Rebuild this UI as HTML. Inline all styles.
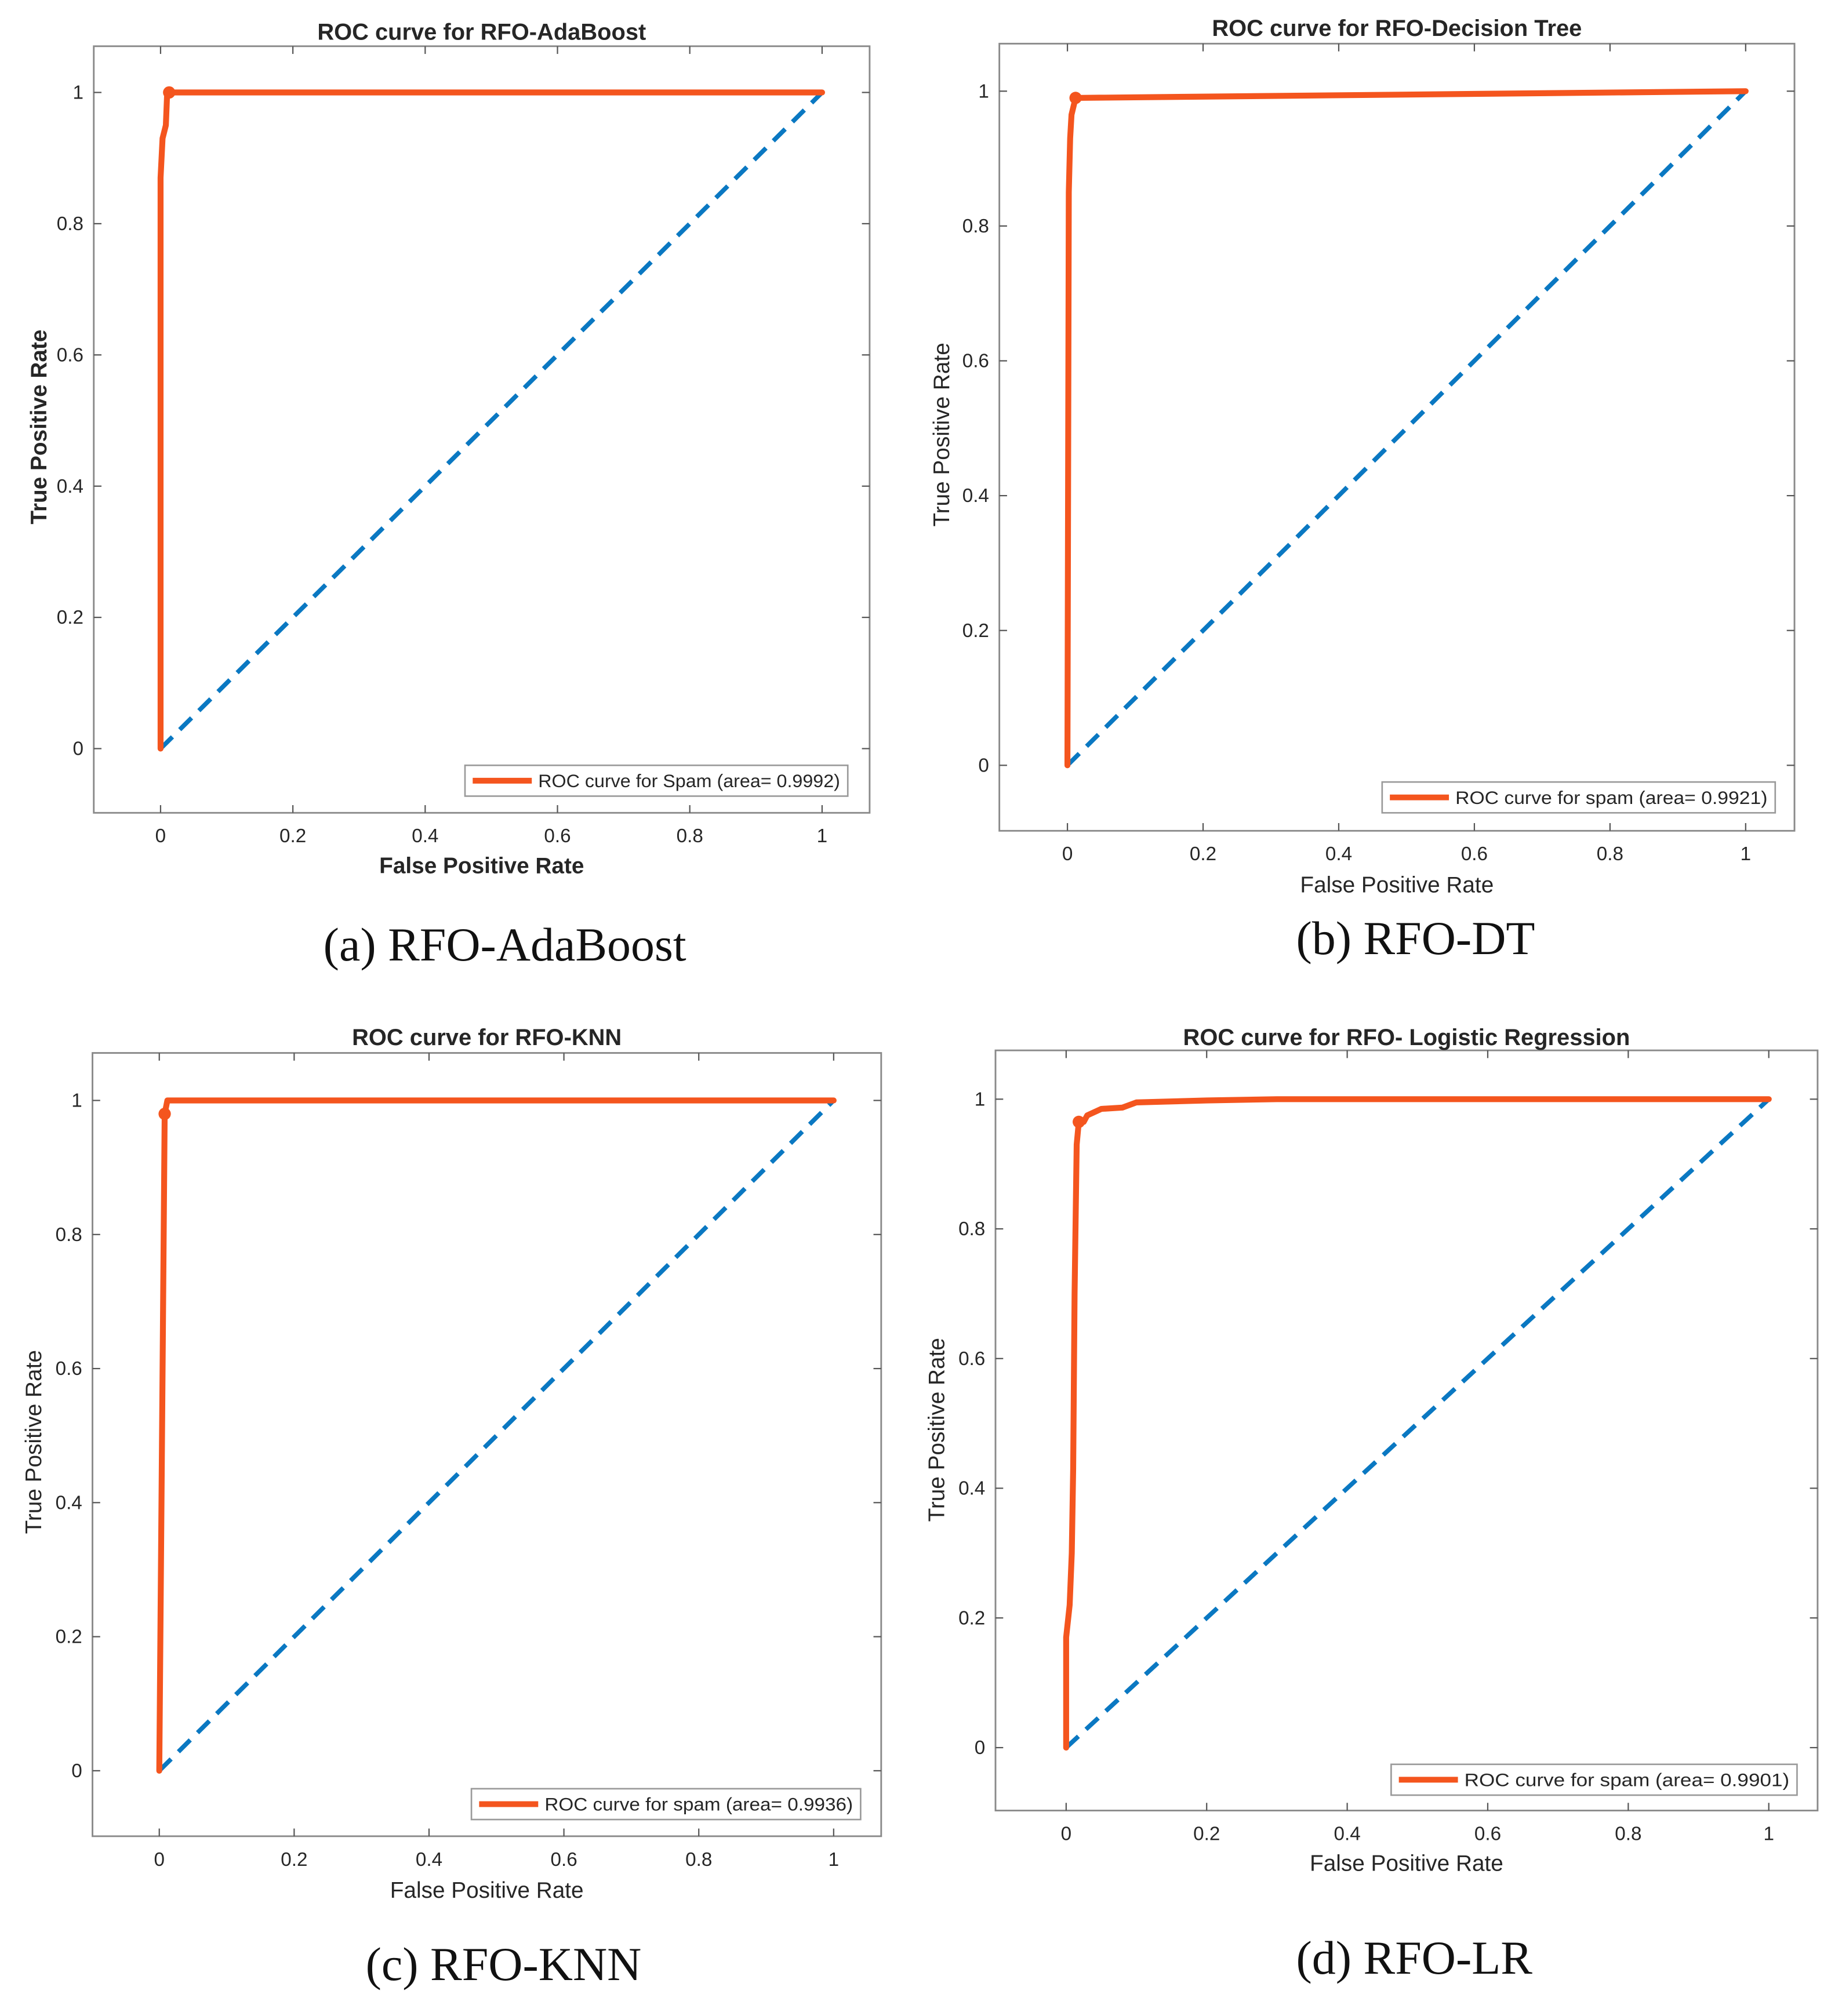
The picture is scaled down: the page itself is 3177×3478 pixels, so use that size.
<!DOCTYPE html>
<html><head><meta charset="utf-8"><style>
html,body{margin:0;padding:0;background:#fff;}
svg{display:block;}
</style></head><body>
<svg id="fig" width="3177" height="3478" viewBox="0 0 1434 1570" preserveAspectRatio="none" xmlns="http://www.w3.org/2000/svg"></svg>
<script>
// Panel data (FPR / TPR arrays)
const fprA = [0, 0, 0.003, 0.008, 0.01, 0.02, 1];
const tprA = [0, 0.87, 0.93, 0.95, 1.0, 1.0, 1.0];
const fprB = [0, 0.002, 0.004, 0.006, 0.012, 1];
const tprB = [0, 0.85, 0.93, 0.965, 0.99, 1.0];
const fprC = [0, 0.008, 0.012, 1];
const tprC = [0, 0.98, 1.0, 1.0];
const fprD = [0, 0, 0.005, 0.008, 0.01, 0.012, 0.015, 0.018, 0.025, 0.03, 0.05, 0.08, 0.1, 0.2, 0.3, 1];
const tprD = [0, 0.17, 0.22, 0.30, 0.43, 0.70, 0.93, 0.965, 0.965, 0.975, 0.985, 0.987, 0.995, 0.998, 1.0, 1.0];
const markerA = [0.013, 1.0];
const markerB = [0.012, 0.99];
const markerC = [0.008, 0.98];
const markerD = [0.018, 0.965];
const xTickLabels = ['0', '0.2', '0.4', '0.6', '0.8', '1'];
const yTickLabels = ['0', '0.2', '0.4', '0.6', '0.8', '1'];
const tickValues = [0, 0.2, 0.4, 0.6, 0.8, 1];

const NS = 'http://www.w3.org/2000/svg';
const svg = document.getElementById('fig');
function mk(tag, attrs, parent) {
  const e = document.createElementNS(NS, tag);
  for (const k in attrs) e.setAttribute(k, attrs[k]);
  (parent || svg).appendChild(e);
  return e;
}
const panels = [
  {id:'a', box:[73,36,677,633], x0:125, x1:640, y0:583, y1:72, title:'ROC curve for RFO-AdaBoost', bold:true,
   titleY:25, xtY:651, xlY:674, ylX:30, cap:'(a) RFO-AdaBoost', capX:393, capY:736,
   leg:[362,596,660,620], legText:'ROC curve for Spam (area= 0.9992)', fpr:fprA, tpr:tprA, mk:markerA},
  {id:'b', box:[778,34,1397,647], x0:831, x1:1359, y0:596, y1:71, title:'ROC curve for RFO-Decision Tree', bold:false,
   titleY:22, xtY:665, xlY:689, ylX:733, cap:'(b) RFO-DT', capX:1102, capY:731,
   leg:[1076,609,1382,633], legText:'ROC curve for spam (area= 0.9921)', fpr:fprB, tpr:tprB, mk:markerB},
  {id:'c', box:[72,820,686,1430], x0:124, x1:649, y0:1379, y1:857, title:'ROC curve for RFO-KNN', bold:false,
   titleY:808, xtY:1448, xlY:1472, ylX:26, cap:'(c) RFO-KNN', capX:392, capY:1530,
   leg:[367,1393,670,1417], legText:'ROC curve for spam (area= 0.9936)', fpr:fprC, tpr:tprC, mk:markerC},
  {id:'d', box:[775,818,1415,1410], x0:830, x1:1377, y0:1361, y1:856, title:'ROC curve for RFO- Logistic Regression', bold:false,
   titleY:808, xtY:1428, xlY:1451, ylX:729, cap:'(d) RFO-LR', capX:1101, capY:1525,
   leg:[1083,1374,1399,1398], legText:'ROC curve for spam (area= 0.9901)', fpr:fprD, tpr:tprD, mk:markerD}
];
const ORANGE = '#f4551e', BLUE = '#0a78c2', GRAY = '#262626';
panels.forEach(p => {
  const g = mk('g', {});
  
  
  const sx = v => p.x0 + v * (p.x1 - p.x0);
  const sy = v => p.y0 + v * (p.y1 - p.y0);
  const [L, T, R, B] = p.box;
  const frame = mk('rect', {x:L, y:T, width:R-L, height:B-T, fill:'#fff', stroke:'#8a8a8a', 'stroke-width':1.3}, g);
  
  
  tickValues.forEach((v, i) => {
    const x = sx(v), y = sy(v);
    mk('line', {x1:x, y1:B, x2:x, y2:B-6, stroke:'#555', 'stroke-width':1}, g);
    mk('line', {x1:x, y1:T, x2:x, y2:T+6, stroke:'#555', 'stroke-width':1}, g);
    mk('line', {x1:L, y1:y, x2:L+6, y2:y, stroke:'#555', 'stroke-width':1}, g);
    mk('line', {x1:R, y1:y, x2:R-6, y2:y, stroke:'#555', 'stroke-width':1}, g);
    const xt = mk('text', {x:x, y:p.xtY + 5, 'text-anchor':'middle', 'font-size':15, fill:GRAY, 'font-family':'Liberation Sans, sans-serif'}, g);
    xt.textContent = xTickLabels[i];
    
    
    const yt = mk('text', {x:L - 8, y:y + 5, 'text-anchor':'end', 'font-size':15, fill:GRAY, 'font-family':'Liberation Sans, sans-serif'}, g);
    yt.textContent = yTickLabels[i];
    
    
  });
  const fw = p.bold ? 'bold' : 'normal';
  const title = mk('text', {x:(L+R)/2, y:p.titleY + 6, 'text-anchor':'middle', 'font-size':18, 'font-weight':'bold', fill:GRAY, 'font-family':'Liberation Sans, sans-serif'}, g);
  title.textContent = p.title;
  
  
  const xl = mk('text', {x:(L+R)/2, y:p.xlY + 6, 'text-anchor':'middle', 'font-size':17.5, 'font-weight':fw, fill:GRAY, 'font-family':'Liberation Sans, sans-serif'}, g);
  xl.textContent = 'False Positive Rate';
  
  
  const cy = (sy(0) + sy(1)) / 2 + 5;
  const yl = mk('text', {x:p.ylX + 6, y:cy, 'text-anchor':'middle', 'font-size':17.5, 'font-weight':fw, fill:GRAY, 'font-family':'Liberation Sans, sans-serif', transform:'rotate(-90 ' + (p.ylX + 6) + ' ' + cy + ')'}, g);
  yl.textContent = 'True Positive Rate';
  
  
  const diag = mk('line', {x1:sx(0), y1:sy(0), x2:sx(1), y2:sy(1), stroke:BLUE, 'stroke-width':3.5, 'stroke-dasharray':'13 8'}, g);
  
  
  const pts = p.fpr.map((f, i) => sx(f) + ',' + sy(p.tpr[i])).join(' ');
  const curve = mk('polyline', {points:pts, fill:'none', stroke:ORANGE, 'stroke-width':4.6, 'stroke-linejoin':'round', 'stroke-linecap':'round'}, g);
  
  
  const dot = mk('circle', {cx:sx(p.mk[0]), cy:sy(p.mk[1]), r:4.8, fill:ORANGE}, g);
  
  
  const [lx1, ly1, lx2, ly2] = p.leg;
  const leg = mk('g', {}, g);
  
  
  mk('rect', {x:lx1, y:ly1, width:lx2-lx1, height:ly2-ly1, fill:'#fff', stroke:'#9a9a9a', 'stroke-width':1.2}, leg);
  mk('line', {x1:lx1+6, y1:(ly1+ly2)/2, x2:lx1+52, y2:(ly1+ly2)/2, stroke:ORANGE, 'stroke-width':4.5}, leg);
  const lt = mk('text', {x:lx1+57, y:(ly1+ly2)/2 + 5, 'font-size':14, fill:GRAY, 'font-family':'Liberation Sans, sans-serif', textLength:(lx2-lx1-63), lengthAdjust:'spacingAndGlyphs'}, leg);
  lt.textContent = p.legText;
  const cap = mk('text', {x:p.capX, y:p.capY + 12, 'text-anchor':'middle', 'font-size':37, fill:'#111', 'font-family':'Liberation Serif, serif'}, g);
  cap.textContent = p.cap;
  
  
});
</script>
</body></html>
